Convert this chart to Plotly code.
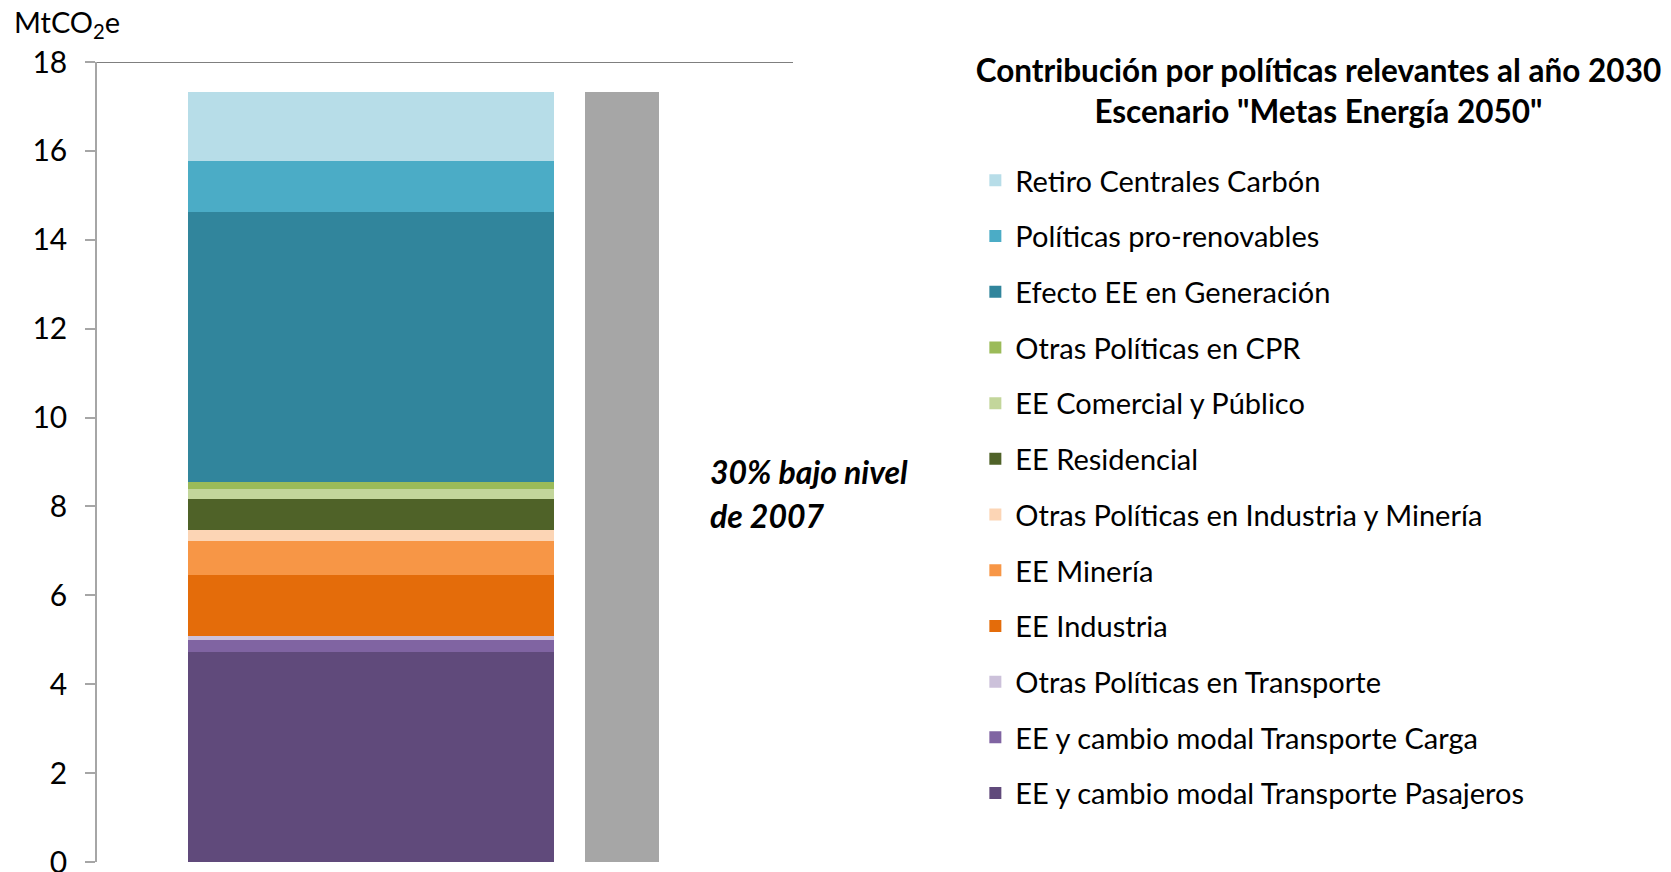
import plotly.graph_objects as go

# ---------------- data ----------------
categories = ["Contribución políticas", "Meta 30% bajo 2007"]

policy_names = [
    "EE y cambio modal Transporte Pasajeros",
    "EE y cambio modal Transporte Carga",
    "Otras Políticas en Transporte",
    "EE Industria",
    "EE Minería",
    "Otras Políticas en Industria y Minería",
    "EE Residencial",
    "EE Comercial y Público",
    "Otras Políticas en CPR",
    "Efecto EE en Generación",
    "Políticas pro-renovables",
    "Retiro Centrales Carbón",
]
policy_values = [4.73, 0.27, 0.09, 1.36, 0.78, 0.23, 0.71, 0.22, 0.17, 6.07, 1.14, 1.56]
target_values = [17.33]

y_tick_values = [0, 2, 4, 6, 8, 10, 12, 14, 16, 18]
y_tick_labels = ["0", "2", "4", "6", "8", "10", "12", "14", "16", "18"]

# ---------------- styles ----------------
policy_colors = [
    "#604A7B", "#8064A2", "#CCC1DA",
    "#E46C0A", "#F79646", "#FCD5B5",
    "#4F6228", "#C3D69B", "#9BBB59",
    "#31859C", "#4BACC6", "#B7DDE8",
]
target_color = "#A6A6A6"
FONT = "Lato"

fig = go.Figure()
n = len(policy_names)
for i, (name, val, col) in enumerate(zip(policy_names, policy_values, policy_colors)):
    fig.add_trace(go.Bar(
        x=[categories[0]], y=[val], name=name,
        marker=dict(color=col, line=dict(width=0)),
        width=[1.458], legendgroup=f"g{i}", legendrank=n - i,
    ))
fig.add_trace(go.Bar(
    x=[categories[1]], y=target_values, name=categories[1],
    marker=dict(color=target_color, line=dict(width=0)),
    width=[0.295], showlegend=False,
))

fig.update_layout(
    width=1671, height=872,
    barmode="stack",
    paper_bgcolor="white", plot_bgcolor="white",
    margin=dict(l=97, r=878, t=62, b=10, autoexpand=False),
    font=dict(family=FONT, color="#000000", size=28),
    showlegend=True,
    legend=dict(
        x=1.262, xanchor="left", y=(862 - 155) / 800, yanchor="top",
        traceorder="grouped", tracegroupgap=15,
        font=dict(family=FONT, size=29, color="#000000"),
        bgcolor="rgba(0,0,0,0)",
    ),
    title=dict(
        text="<b>Contribución por políticas relevantes al año 2030<br>Escenario \"Metas Energía 2050\"</b>",
        x=0.789, xref="container", xanchor="center",
        y=1 - 82 / 872, yref="container", yanchor="top",
        font=dict(family=FONT, size=31.5, color="#000000"),
    ),
    xaxis=dict(
        type="category", range=[-1.0916, 1.681],
        showticklabels=False, showline=False, showgrid=False,
        zeroline=False, ticks="",
    ),
    yaxis=dict(
        range=[0, 18], tickvals=y_tick_values, ticktext=y_tick_labels,
        showgrid=False, zeroline=False,
        showline=True, linecolor="#A6A6A6", linewidth=1.5,
        ticks="outside", ticklen=10, tickcolor="#A6A6A6", tickwidth=1.5,
        ticklabelstandoff=12, ticklabeloverflow="allow",
        tickfont=dict(family=FONT, size=30, color="#000000"),
    ),
    bargap=0,
)

# top border line at the axis maximum
fig.add_shape(type="line", xref="paper", x0=0, x1=1, yref="y", y0=18, y1=18,
              line=dict(color="#7F7F7F", width=2), layer="above")

# axis unit label
fig.add_annotation(text="MtCO<sub>2</sub>e", xref="paper", yref="paper",
                   x=(12 - 97) / 696, y=(862 - 24) / 800, xanchor="left", yanchor="middle",
                   showarrow=False, font=dict(family=FONT, size=29, color="#000000"))

# target note
fig.add_annotation(text="<b><i>30% bajo nivel</i></b>", xref="paper", yref="paper",
                   x=(708 - 97) / 696, y=(862 - 472) / 800, xanchor="left", yanchor="middle",
                   showarrow=False, font=dict(family=FONT, size=32, color="#000000"))
fig.add_annotation(text="<b><i>de 2007</i></b>", xref="paper", yref="paper",
                   x=(708 - 97) / 696, y=(862 - 515) / 800, xanchor="left", yanchor="middle",
                   showarrow=False, font=dict(family=FONT, size=32, color="#000000"))

fig.write_html("out.html", config={"displayModeBar": False},
               post_script="document.body.style.margin='0';")
